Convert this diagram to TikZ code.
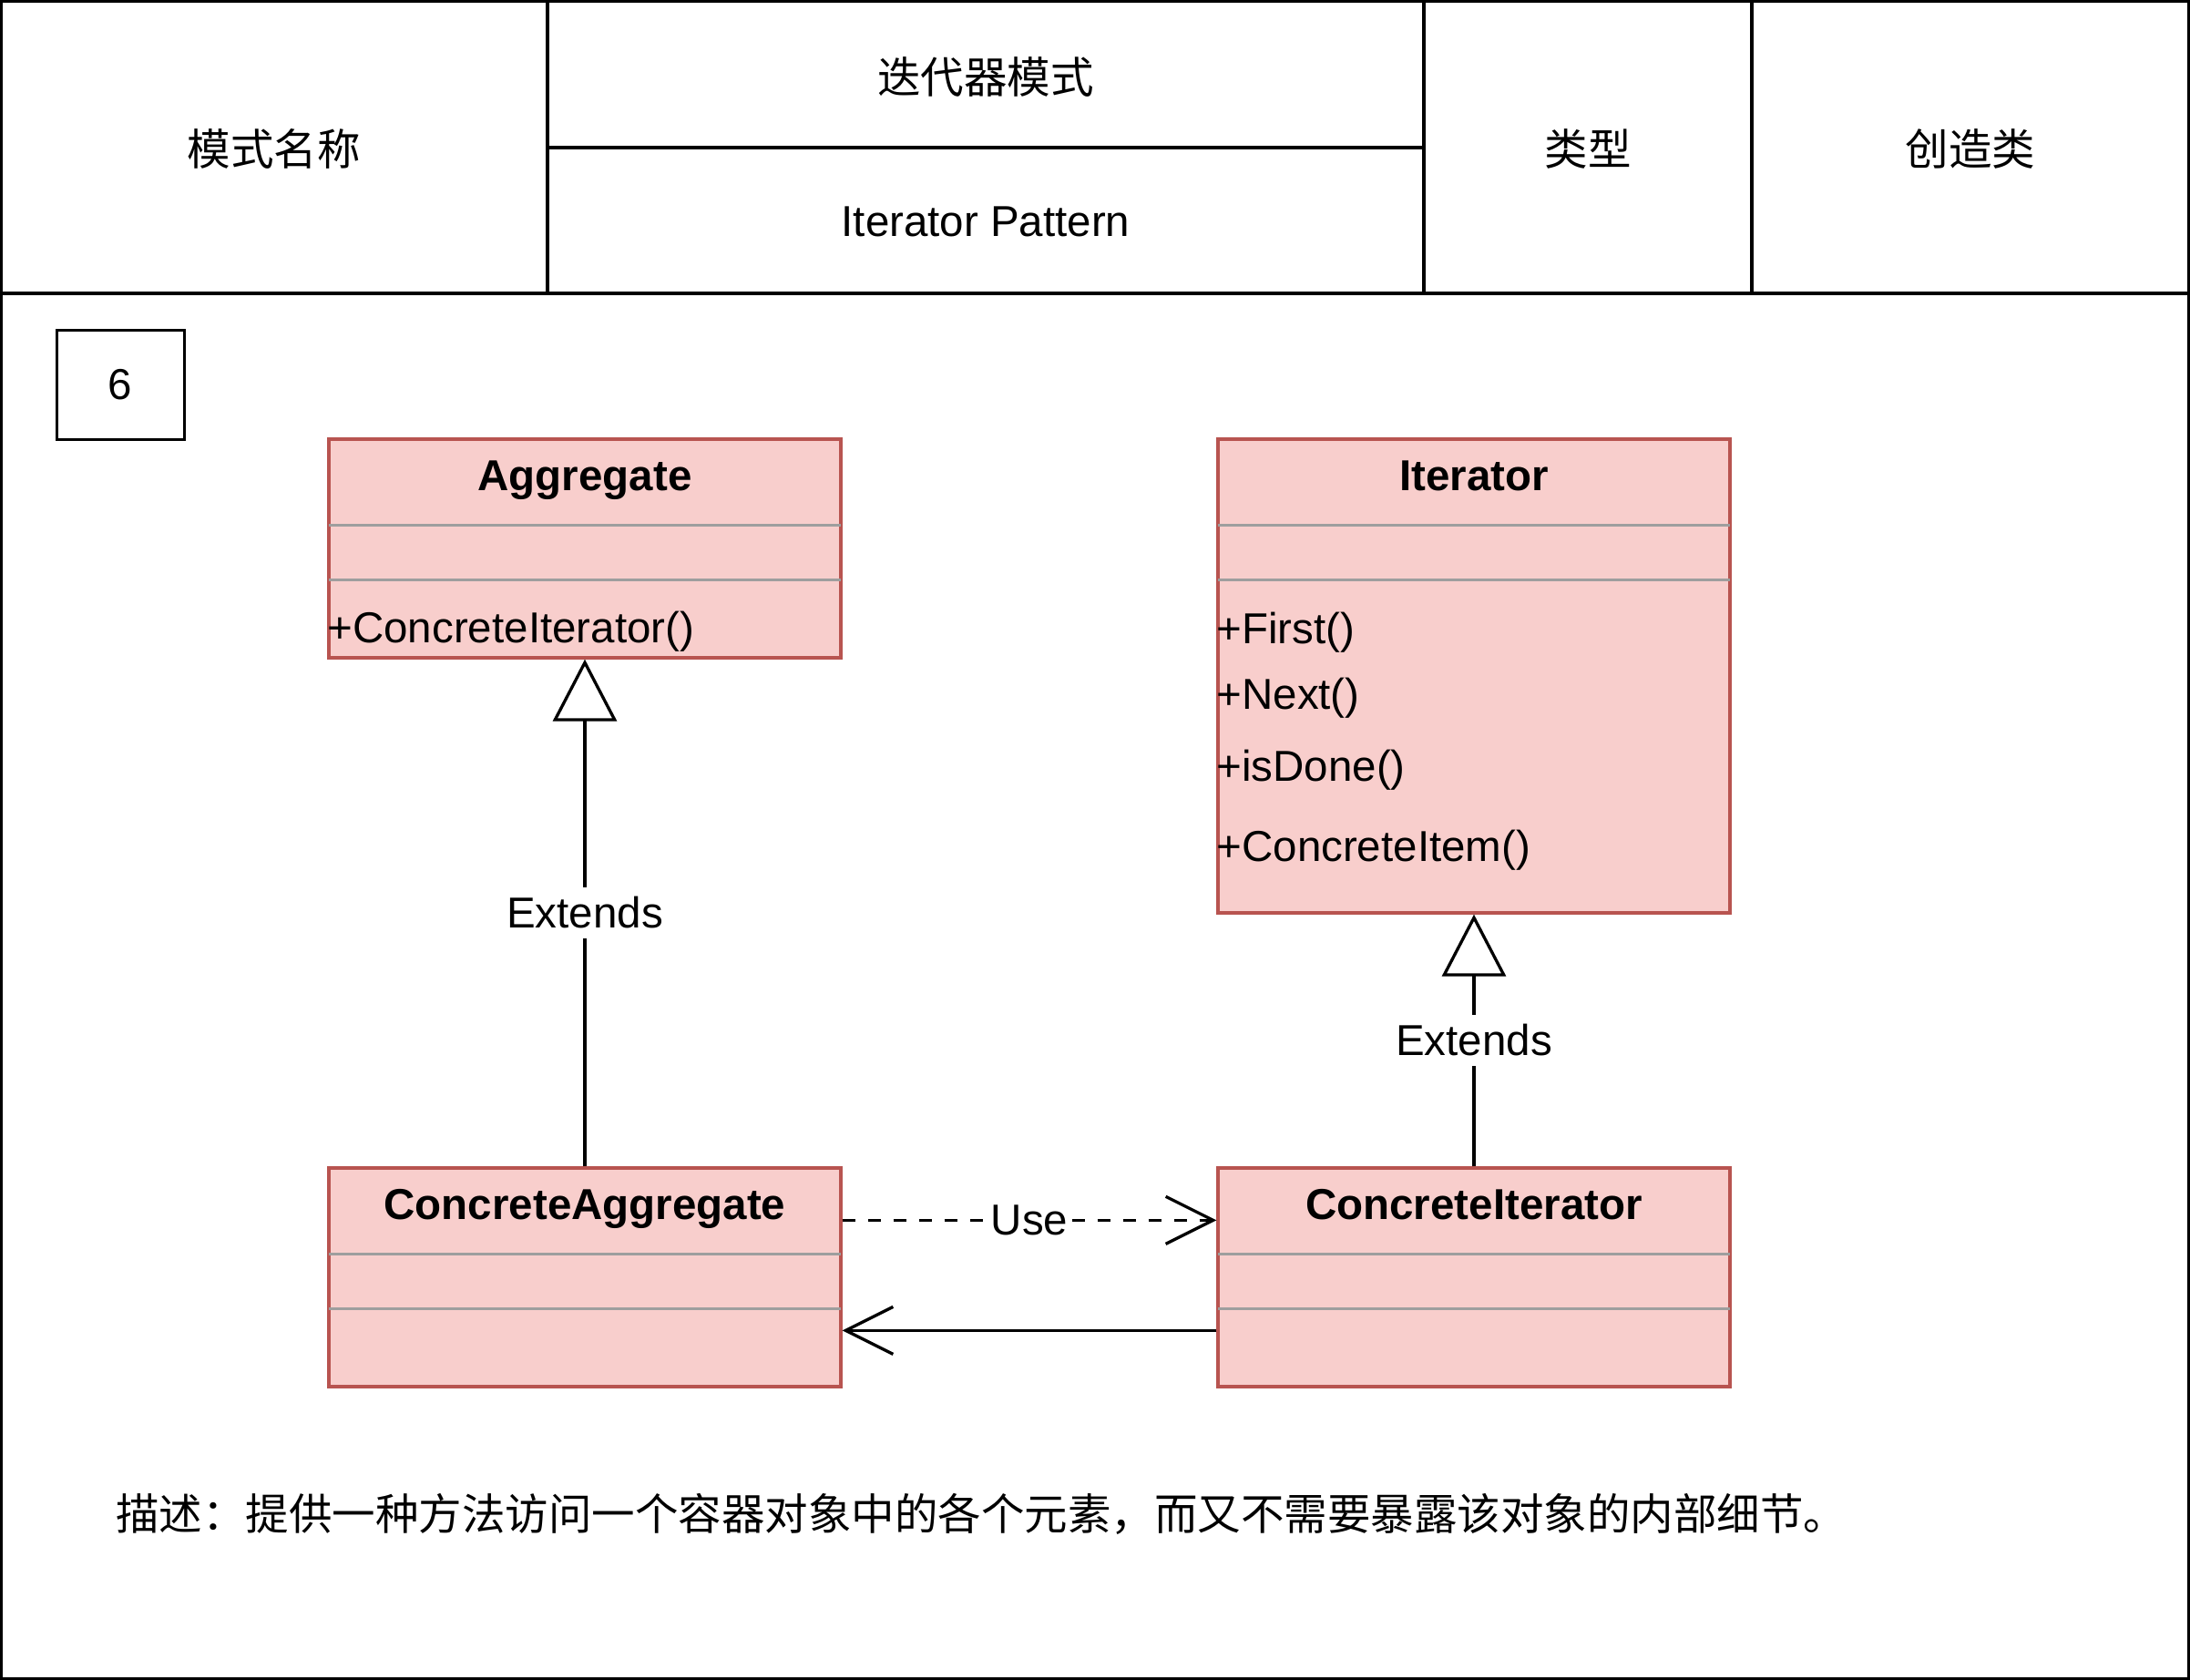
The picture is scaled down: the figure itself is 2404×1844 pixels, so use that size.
\documentclass[tikz,border=0pt]{standalone}
\usepackage{fontspec}
\setmainfont{Liberation Sans}
\newfontfamily\cjk{Noto Sans CJK SC}
\usetikzlibrary{arrows.meta,calc,positioning}

\definecolor{classfill}{HTML}{F8CECC}
\definecolor{classline}{HTML}{B85450}
\definecolor{sepgray}{HTML}{9E9E9E}

\begin{document}
\begin{tikzpicture}[x=1pt,y=-1pt,
	txt/.style={inner sep=0pt,font=\fontsize{47.5}{57}\selectfont},
	cjktxt/.style={inner sep=0pt,font=\fontsize{47.5}{57}\selectfont\cjk},
	tableline/.style={line width=3.3pt},
	classbox/.style={draw=classline,fill=classfill,line width=3.3pt,minimum width=562pt,inner sep=0pt},
	classtitle/.style={inner sep=0pt,font=\fontsize{47.5}{57}\selectfont\bfseries},
	sepline/.style={draw=sepgray,line width=3pt},
	extends/.style={line width=3.3pt,-{Triangle[open,length=68pt,width=70pt]}},
	usearrow/.style={line width=3.3pt,-{Straight Barb[length=52pt,width=52pt]}},
	edgelabel/.style={txt,fill=white,inner xsep=4pt,inner ysep=11pt}]

	\useasboundingbox (0,0) rectangle (2404,1844);

	%Header table
	\draw[tableline] (1.65,1.65) rectangle (2402.35,1842.35);
	\draw[tableline] (0,322) -- (2404,322);
	\foreach \xLine in {601,1563,1923}{
		\draw[tableline] (\xLine,0) -- (\xLine,322);
	}
	\draw[tableline] (601,162) -- (1563,162);

	\node[cjktxt] (namekey) at (300.5,163) {模式名称};
	\node[cjktxt] (namecn) at (1082,84) {迭代器模式};
	\node[txt] (nameen) at (1082,243) {Iterator Pattern};
	\node[cjktxt] (typekey) at (1743,163) {类型};
	\node[cjktxt] (typeval) at (2163,163) {创造类};

	%Number box
	\node[txt,draw,line width=3pt,minimum width=140pt,minimum height=120pt] (num) at (132,422) {6};

	%Classes
	\foreach \cls/\cx/\cy/\h/\title in {agg/642/602/240/Aggregate, iter/1618/742/520/Iterator, cagg/642/1402/240/ConcreteAggregate, citer/1618/1402/240/ConcreteIterator}{
		\node[classbox,minimum height=\h pt] (\cls) at (\cx,\cy) {};
		\foreach \sep in {96,156}{
			\draw[sepline] ([xshift=1.65pt,yshift=-\sep pt]\cls.north west) -- ([xshift=-1.65pt,yshift=-\sep pt]\cls.north east);
		}
		\node[classtitle,anchor=base] (\cls-title) at ([yshift=-58pt]\cls.north) {\title};
	}

	%Methods
	\node[txt,anchor=base west] (agg-m) at ([yshift=-225pt]agg.north west) {+ConcreteIterator()};
	\foreach \method/\base in {First/226, Next/298, isDone/377, ConcreteItem/465}{
		\node[txt,anchor=base west] (iter-\method) at ([yshift=-\base pt]iter.north west) {+\method()};
	}

	%Relations
	\draw[extends] (cagg) -- (agg) node[edgelabel,midway] (agg-ext) {Extends};
	\draw[extends] (citer) -- (iter) node[edgelabel,midway] (iter-ext) {Extends};

	\draw[usearrow,dash pattern=on 14pt off 14pt] ([yshift=-59pt]cagg.north east) -- ([yshift=-59pt]citer.north west) node[edgelabel,midway] (use) {Use};
	\draw[usearrow] ([yshift=-180pt]citer.north west) -- ([yshift=-180pt]cagg.north east);

	%Description
	\node[cjktxt,anchor=west] (desc) at (127,1662) {描述：提供一种方法访问一个容器对象中的各个元素，而又不需要暴露该对象的内部细节。};

\end{tikzpicture}
\end{document}
